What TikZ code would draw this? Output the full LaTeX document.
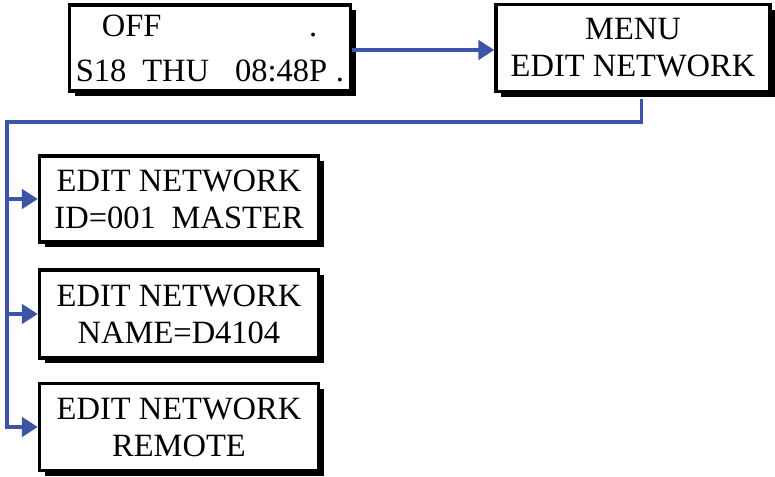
\documentclass[tikz,border=0pt]{standalone}
\usepackage{fontspec}
\setmainfont{Liberation Serif}
\usetikzlibrary{arrows.meta,shadows}
\definecolor{linkblue}{RGB}{59,84,165}
\begin{document}
\begin{tikzpicture}[x=0.02cm,y=-0.02cm,
  screen/.style={draw,line width=2pt,fill=white,inner sep=0pt,minimum width=5.58cm,minimum height=1.72cm,align=center,font=\fontsize{18.5}{21}\selectfont,drop shadow={shadow xshift=3pt,shadow yshift=-3pt,fill=black,opacity=1}},
  link/.style={draw=linkblue,line width=1.9pt,-{Triangle[length=9pt,width=11pt]}}]
\useasboundingbox (0,0) rectangle (775,477);
\node[screen,align=left,minimum width=5.62cm] (off) at (210,48) {\hspace*{14.8pt}OFF\hspace{84pt}.\\[4.6pt]S18\hspace{9pt}THU\hspace{14.8pt}08:48P\hspace{5pt}.};
\node[screen,minimum width=5.48cm,minimum height=1.74cm] (menu) at (633,48) {MENU\\EDIT NETWORK};
\node[screen] (id) at (179,199) {EDIT NETWORK\\ID=001\hspace{9pt}MASTER};
\node[screen,minimum height=1.76cm] (name) at (179,314) {EDIT NETWORK\\NAME=D4104};
\node[screen,minimum height=1.74cm] (remote) at (179,427) {EDIT NETWORK\\REMOTE};
\coordinate (bus) at (7,122);
\draw[link] (off.east |- 0,50) -- (menu.west |- 0,50);
\draw[link] ([xshift=0.17cm,yshift=-3pt]menu.south) |- (bus) |- (remote.west);
\draw[link] (bus |- id.west) -- (id.west);
\draw[link] (bus |- name.west) -- (name.west);
\end{tikzpicture}
\end{document}
